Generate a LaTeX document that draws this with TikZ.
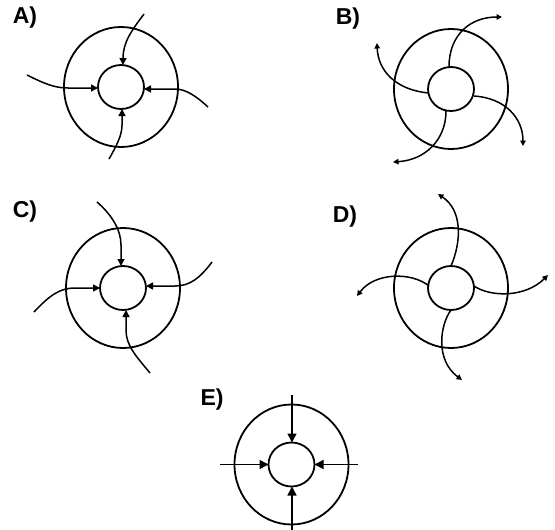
\documentclass[tikz,border=0pt]{standalone}
\usepackage{fontspec}
\setmainfont{Liberation Sans}
\usetikzlibrary{arrows.meta}
\tikzset{
  ring/.style={line width=1.8pt},
  spoke/.style={line width=1.5pt},
  inarrow/.style={spoke,-{Triangle[length=7pt,width=7pt]}},
  outarrow/.style={spoke,-{Triangle[length=5.5pt,width=5.5pt]}},
  bigarrow/.style={spoke,-{Triangle[length=9pt,width=9pt]}},
  lbl/.style={font=\bfseries\fontsize{23}{25}\selectfont, inner sep=0pt}
}
\begin{document}
\begin{tikzpicture}[x=1pt,y=-1pt]
\useasboundingbox (0,0) rectangle (555,530);
\fill[white] (0,0) rectangle (555,530);
% labels
\node[lbl] (la) at (25,18) {A)};
\node[lbl] (lb) at (348,19) {B)};
\node[lbl] (lc) at (25,212) {C)};
\node[lbl] (ld) at (345,217) {D)};
\node[lbl] (le) at (212,400) {E)};
% centres
\coordinate (A) at (121,87);
\coordinate (B) at (451,89);
\coordinate (C) at (123,288);
\coordinate (D) at (451,288);
\coordinate (E) at (291.5,464.5);
\foreach \c in {A,B,C,D,E}{
  \draw[ring] (\c) ellipse [x radius=57pt, y radius=60pt];
  \draw[ring] (\c) ellipse [x radius=23pt, y radius=22pt];
}
% A
\draw[inarrow] (144,14) .. controls (132,30) and (123,42) .. (123,65);
\draw[inarrow] (27,75) .. controls (45,84) and (55,88) .. (68,88) -- (98,88);
\draw[inarrow] (208,107) .. controls (195,95) and (185,89) .. (175,89) -- (144,89);
\draw[inarrow] (109,159) .. controls (117,145) and (122,135) .. (122,125) -- (122,109);
% B
\draw[outarrow] (449,67) .. controls (449,35) and (470,17) .. (502,17);
\draw[outarrow] (429,93) .. controls (395,90) and (378,70) .. (377,43);
\draw[outarrow] (474,96) .. controls (505,98) and (523,118) .. (523,146);
\draw[outarrow] (446,111) .. controls (446,140) and (425,160) .. (393,162);
% C
\draw[inarrow] (97,202) .. controls (112,215) and (121,230) .. (121,245) -- (121,266);
\draw[inarrow] (212,262) .. controls (200,278) and (190,286) .. (175,286) -- (146,286);
\draw[inarrow] (34,312) .. controls (50,295) and (60,288) .. (75,288) -- (100,288);
\draw[inarrow] (150,373) .. controls (135,355) and (126,345) .. (126,330) -- (126,310);
% D
\draw[outarrow] (451,266) .. controls (462,240) and (462,210) .. (438,194);
\draw[outarrow] (474,286) .. controls (490,297) and (525,298) .. (548,275);
\draw[outarrow] (429,286) .. controls (412,272) and (375,272) .. (357,296);
\draw[outarrow] (451,310) .. controls (440,325) and (435,360) .. (462,380);
% E
\draw[bigarrow] (292,395) -- (292,442.5);
\draw[bigarrow] (220,464.5) -- (268.5,464.5);
\draw[bigarrow] (358,464.5) -- (314.5,464.5);
\draw[bigarrow] (292,530) -- (292,486.5);
\end{tikzpicture}
\end{document}
